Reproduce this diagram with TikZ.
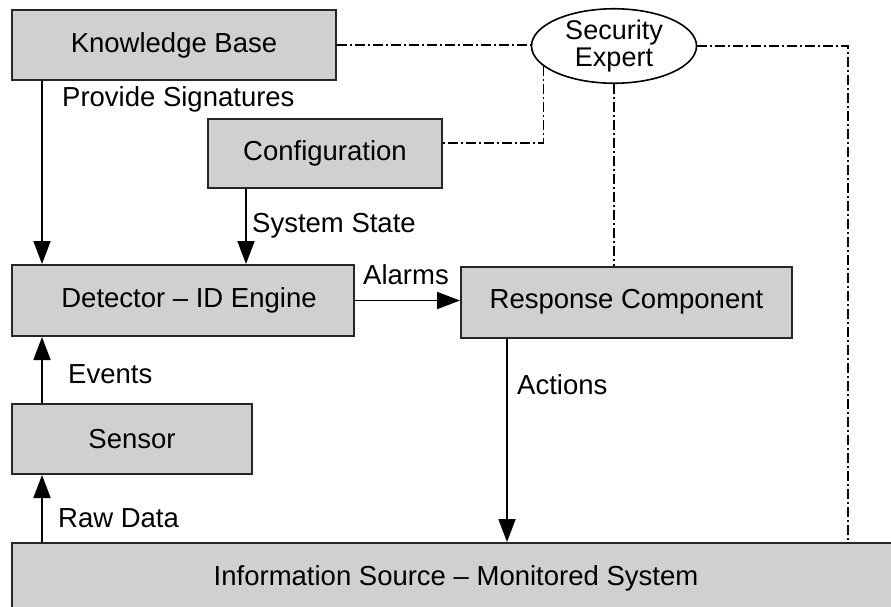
\documentclass[tikz,border=0pt]{standalone}
\usepackage{fontspec}
\setmainfont{Liberation Sans}
\usetikzlibrary{arrows.meta,shapes.geometric,calc}
\definecolor{boxgray}{RGB}{208,208,208}
\begin{document}
\begin{tikzpicture}[x=1pt,y=-1pt,
  font=\fontsize{27.5}{28}\selectfont,
  block/.style={draw=black!85,line width=2pt,fill=boxgray,rectangle,inner sep=0pt},
  arr/.style={line width=1.8pt,-{Triangle[width=17pt,length=23pt]}},
  dd/.style={line width=1.6pt,dash pattern=on 10pt off 3pt on 2pt off 3pt},
  lbl/.style={anchor=west,inner sep=0pt}]
\useasboundingbox (0,0) rectangle (891,606);
\clip (0,0) rectangle (891,606);

% component boxes
\node[block,minimum width=324pt,minimum height=70pt] (KB)  at (174,45)    {Knowledge Base};
\node[block,minimum width=234pt,minimum height=69pt] (Cfg) at (325,153.5) {Configuration};
\node[block,minimum width=342pt,minimum height=71pt] (Det) at (183,300.5) {\hspace*{12pt}Detector -- ID Engine};
\node[block,minimum width=331pt,minimum height=71pt] (Resp) at (626.5,302) {Response Component};
\node[block,minimum width=240pt,minimum height=70pt] (Sen) at (132,439)   {Sensor};
\node[block,minimum width=888pt,minimum height=70pt] (Info) at (456,578)  {Information Source -- Monitored System};

% the human in the loop
\node[draw,line width=1.6pt,ellipse,fill=white,minimum width=165pt,minimum height=62pt,
      inner sep=0pt,align=center,font=\fontsize{27}{27.5}\selectfont] (SE) at (614,46) {Security\\Expert};

% data flow
\draw[arr] ([xshift=31pt]KB.south west) -- ([xshift=31pt]Det.north west);
\draw[arr] ([xshift=39pt]Cfg.south west) -- ([xshift=39pt]Cfg.south west |- Det.north);
\draw[arr] (Det.east) -- (Det.east -| Resp.west);
\draw[arr] ([xshift=31pt]Sen.north west) -- ([xshift=31pt]Det.south west);
\draw[arr] ([xshift=31pt]Info.north west) -- ([xshift=31pt]Sen.south west);
\draw[arr] ([xshift=47pt]Resp.south west) -- ([xshift=47pt]Resp.south west |- Info.north);

% flow labels
\node[lbl] (lPS) at (62,99)  {Provide Signatures};
\node[lbl] (lSS) at (252,226) {System State};
\node[lbl] (lAl) at (363,275) {Alarms};
\node[lbl] (lEv) at (68,374)  {Events};
\node[lbl] (lAc) at (517,385) {Actions};
\node[lbl] (lRD) at (58,518)  {Raw Data};

% expert interaction (dash-dot)
\coordinate (cR) at (848,46);
\coordinate (cC) at ([yshift=10.5pt]Cfg.east);
\draw[dd] (KB.east) -- (KB.east -| SE.west);
\draw[dd] (SE.east) -- (cR) -- (cR |- Info.north);
\draw[dd] (SE.south) -- (SE.south |- Resp.north);
\draw[dd] (SE.196) -- (SE.196 |- cC) -- (cC);
\end{tikzpicture}
\end{document}
